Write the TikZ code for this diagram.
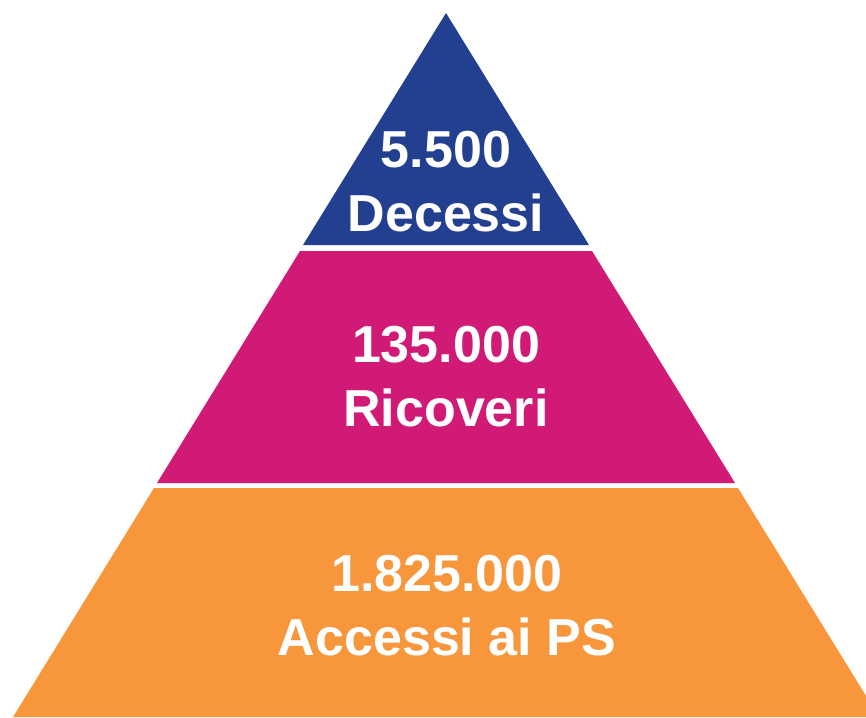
\documentclass[tikz,border=0pt]{standalone}
\usepackage{fontspec}
\setmainfont{Liberation Sans}
\definecolor{pyrblue}{HTML}{234090}
\definecolor{pyrmagenta}{HTML}{D01A76}
\definecolor{pyrorange}{HTML}{F7963A}
\tikzset{
	layer/.style = {draw = none},
	count/.style = {text = white, align = center, inner sep = 0pt,
		font = \fontsize{52}{64}\selectfont\bfseries}
}
\begin{document}
\begin{tikzpicture}[x=1pt, y=-1pt]
	\useasboundingbox (0, 0) rectangle (866, 717);
	\clip (0, 0) rectangle (866, 717);
	% layers, top to bottom
	\fill[layer, pyrblue]		(446, 13) -- (589, 245) -- (303, 245) -- cycle;
	\fill[layer, pyrmagenta]	(300, 251) -- (592, 251) -- (735, 483) -- (157, 483) -- cycle;
	\fill[layer, pyrorange]		(154, 488) -- (738, 488) -- (879, 717) -- (13, 717) -- cycle;
	% labels
	\node (D) at (446, 182)	[count]	{5.500\\Decessi};
	\node (R) at (446, 377)	[count]	{135.000\\Ricoveri};
	\node (A) at (447, 606)	[count]	{1.825.000\\Accessi ai PS};
\end{tikzpicture}
\end{document}
